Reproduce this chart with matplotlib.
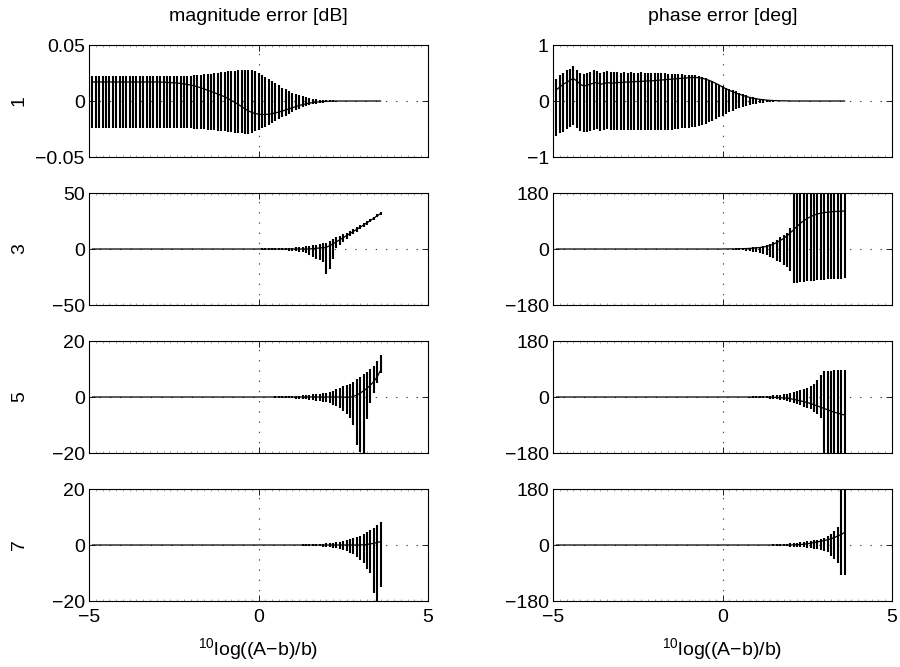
import numpy as np
import matplotlib
matplotlib.use("Agg")
import matplotlib.pyplot as plt
from matplotlib.ticker import MultipleLocator

plt.rcParams['font.family'] = ['Liberation Sans', 'DejaVu Sans']
plt.rcParams['mathtext.fontset'] = 'custom'
plt.rcParams['mathtext.rm'] = 'Liberation Sans'
plt.rcParams['mathtext.it'] = 'Liberation Sans:italic'

# x positions: 10log((A-b)/b) from -4.9 to 3.6 in steps of 0.1
x = np.linspace(-4.9, 3.6, 86)

orders = ["1", "3", "5", "7"]
col_titles = ["magnitude error [dB]", "phase error [deg]"]
x_ticks = [-5, 0, 5]
mag_limits = [0.05, 50, 20, 20]
phase_limits = [1, 180, 180, 180]
mag_tick_labels = [["\u22120.05", "0", "0.05"], ["\u221250", "0", "50"], ["\u221220", "0", "20"], ["\u221220", "0", "20"]]
phase_tick_labels = [["\u22121", "0", "1"], ["\u2212180", "0", "180"], ["\u2212180", "0", "180"], ["\u2212180", "0", "180"]]

# ---- order 1, magnitude ----
mag1_mean = ([0.017]*20
             + [0.0169, 0.0168, 0.0166, 0.0164, 0.0162, 0.016, 0.0157, 0.0153, 0.0148, 0.0142, 0.0135, 0.0127, 0.0118, 0.0108]
             + [0.0095, 0.0085, 0.0074, 0.0062, 0.005, 0.0038]
             + [0.0022, 0.0005, -0.0012, -0.003, -0.005, -0.007, -0.0088, -0.0102, -0.0112]
             + [-0.0117, -0.012, -0.012, -0.0118, -0.0113, -0.0106, -0.0098, -0.009, -0.008, -0.007]
             + [-0.006, -0.005, -0.004, -0.0032, -0.0025, -0.0019, -0.0014, -0.001, -0.0007, -0.0005, -0.0003]
             + [-0.0002, -0.0001] + [0.0]*14)
mag1_hi = ([0.0223]*29
           + [0.0225, 0.0228, 0.0231, 0.0234, 0.0237, 0.024, 0.0244, 0.0248, 0.0252, 0.0256]
           + [0.026, 0.0264, 0.0268, 0.0272, 0.0275, 0.0278, 0.028, 0.028, 0.0275, 0.0265]
           + [0.025, 0.0235, 0.0218, 0.02, 0.018, 0.016, 0.014, 0.012, 0.0103, 0.0088]
           + [0.0075, 0.0063, 0.0052, 0.0042, 0.0033, 0.0026, 0.002, 0.0016, 0.0012, 0.001]
           + [0.0008, 0.0006, 0.0005, 0.0004, 0.0003, 0.0002]
           + [0.0001]*11)
mag1_lo = ([-0.0242]*29
           + [-0.0244, -0.0246, -0.0248, -0.025, -0.0253, -0.0256, -0.0259, -0.0262, -0.0265, -0.0268]
           + [-0.0271, -0.0275, -0.0279, -0.0283, -0.0287, -0.029, -0.0292, -0.0292, -0.0285, -0.0272]
           + [-0.0255, -0.0242, -0.0228, -0.0213, -0.0198, -0.0183, -0.0165, -0.0147, -0.013, -0.0112]
           + [-0.0096, -0.0082, -0.0069, -0.0057, -0.0046, -0.0037, -0.003, -0.0024, -0.0019, -0.0015]
           + [-0.0012, -0.0009, -0.0007, -0.0005, -0.0004, -0.0003]
           + [-0.0002]*11)

# ---- order 1, phase ----
ph1_mean = ([0.2, 0.25, 0.3, 0.33, 0.37, 0.4, 0.36, 0.3, 0.27, 0.28, 0.3, 0.32, 0.33, 0.3, 0.31, 0.33, 0.32, 0.32, 0.33, 0.33]
            + [0.335, 0.34, 0.34, 0.345, 0.35, 0.35, 0.355, 0.36, 0.36, 0.365]
            + [0.37, 0.375, 0.38, 0.385, 0.39, 0.395, 0.4, 0.405, 0.41, 0.415]
            + [0.42, 0.42, 0.415, 0.405, 0.39, 0.37, 0.345, 0.315, 0.285, 0.25]
            + [0.22, 0.19, 0.165, 0.14, 0.12, 0.1, 0.08, 0.065, 0.05, 0.04]
            + [0.03, 0.022, 0.016, 0.012, 0.008, 0.006, 0.004, 0.003, 0.002, 0.001]
            + [0.0]*16)
ph1_hi = ([0.4, 0.47, 0.5, 0.55, 0.58, 0.62, 0.55, 0.5, 0.48, 0.5, 0.52, 0.55, 0.53, 0.5, 0.52, 0.54, 0.52, 0.51, 0.51, 0.5]
          + [0.51, 0.5, 0.51, 0.5, 0.5, 0.51, 0.5, 0.5, 0.5, 0.5]
          + [0.5, 0.5, 0.5, 0.49, 0.49, 0.49, 0.48, 0.48, 0.47, 0.47]
          + [0.47, 0.46, 0.45, 0.43, 0.41, 0.38, 0.35, 0.32, 0.29, 0.26]
          + [0.24, 0.22, 0.19, 0.17, 0.14, 0.12, 0.1, 0.08, 0.065, 0.05]
          + [0.04, 0.03, 0.022, 0.016, 0.012, 0.009, 0.007, 0.005, 0.004, 0.003]
          + [0.002]*16)
ph1_lo = ([-0.62, -0.58, -0.55, -0.5, -0.47, -0.43, -0.48, -0.53, -0.56, -0.55, -0.53, -0.52, -0.5, -0.54, -0.52, -0.5, -0.51, -0.52, -0.52, -0.52]
          + [-0.52]*10
          + [-0.52, -0.52, -0.52, -0.51, -0.51, -0.5, -0.5, -0.49, -0.49, -0.48]
          + [-0.47, -0.46, -0.45, -0.43, -0.41, -0.38, -0.35, -0.32, -0.29, -0.26]
          + [-0.23, -0.2, -0.17, -0.145, -0.12, -0.1, -0.085, -0.07, -0.055, -0.045]
          + [-0.035, -0.027, -0.02, -0.015, -0.011, -0.008, -0.006, -0.004, -0.003, -0.002]
          + [-0.001]*16)

# ---- order 3 ----
mag3_mean = [0.0]*65 + [0.3, 0.6, 0.9, 1.2, 1.5, 3.0, 4.7, 6.5, 8.3, 10.1, 12, 13.8, 15.7, 17.6, 19.5, 21.4, 23.4, 25.4, 27.5, 29.6, 31.6]
mag3_hi = ([0.3]*50 + [0.5, 0.5, 0.6, 0.6, 0.7, 0.8, 0.9, 1.0, 1.1, 1.3]
           + [1.5, 1.8, 2.2, 2.6, 3.0, 3.5, 4.0, 4.5, 5.0, 5.5]
           + [7.5, 9, 10.5, 12, 13, 14.5, 16, 18, 19.6, 21.4, 23.2, 25.1, 27, 29, 31, 32.8])
mag3_lo = ([-0.3]*50 + [-0.5, -0.5, -0.6, -0.7, -0.8, -0.9, -1.0, -1.2, -1.4, -1.6]
           + [-2, -2.5, -3, -4, -5.5, -7, -9, -10, -12, -22]
           + [-18, -8.5, 1, 3.5, 6.5, 9, 11.3, 13.4, 15.5, 17.6, 19.6, 21.7, 23.8, 26, 28.2, 30.4])
ph3_mean = ([0.0]*50 + [0.2, 0.3, 0.4, 0.6, 0.8, 1.1, 1.5, 2, 2.7, 3.6]
            + [4.8, 6.3, 8.5, 11.5, 15.5, 21, 27, 34, 42, 52]
            + [62, 73, 83, 91, 98, 104, 109, 112.5, 115, 117, 118.5, 119.5, 120.5, 121, 121.5, 122])
ph3_hi = ([0.5]*50 + [1, 1.2, 1.5, 1.8, 2.2, 2.7, 3.3, 4, 5, 6]
          + [8, 10, 13, 17, 22, 29, 37, 45, 53, 66]
          + [300]*16)
ph3_lo = ([-0.5]*50 + [-1, -1.5, -2, -2.7, -3.5, -4.5, -5.5, -7, -8.5, -10.5]
          + [-13, -16, -20, -25, -30, -37, -42, -50, -58, -70]
          + [-110, -108, -107, -105, -104, -103, -102, -101, -100, -99, -98, -97, -96, -95, -95, -94])

# ---- order 5 ----
mag5_mean = [0.0]*75 + [-0.1, -0.1, 0.2, 0.7, 1.4, 2.2, 3.1, 4.2, 5.5, 7.2, 9.5]
mag5_hi = ([0.1]*50 + [0.1, 0.1, 0.15, 0.15, 0.2, 0.2, 0.25, 0.3, 0.35, 0.4]
           + [0.45, 0.5, 0.6, 0.7, 0.8, 0.9, 1.0, 1.2, 1.4, 1.6]
           + [1.9, 2.3, 2.8, 3.3, 3.8, 4.3, 4.8, 5.5, 6.3, 7.3, 8.2, 9, 10, 11, 13, 15])
mag5_lo = ([-0.1]*50 + [-0.1, -0.1, -0.15, -0.15, -0.2, -0.25, -0.3, -0.35, -0.4, -0.5]
           + [-0.55, -0.6, -0.7, -0.8, -1.0, -1.1, -1.3, -1.5, -1.7, -1.9]
           + [-2.3, -2.8, -3.3, -4, -5, -6, -7.5, -10, -17, -19.5, -20.5, -8, -2, 1.3, 4.9, 8.5])
ph5_mean = [0.0]*64 + [-1, -1.5, -2, -3, -4, -5.5, -7.5, -10, -12.5, -15, -18, -21, -25, -29, -33, -37, -41, -45, -49, -52, -55, -58]
ph5_hi = ([0.5]*50 + [0.6, 0.7, 0.8, 0.9, 1.0, 1.2, 1.4, 1.6, 1.9, 2.2]
          + [2.6, 3, 3.5, 4.2, 5, 6, 7.2, 8.6, 10.3, 12.5]
          + [15, 18, 21, 25, 29, 35, 43, 55, 72]
          + [82, 84, 85, 86, 86, 87, 88])
ph5_lo = ([-0.5]*50 + [-0.6, -0.7, -0.8, -0.9, -1.1, -1.3, -1.5, -1.8, -2.1, -2.5]
          + [-3, -3.6, -4.3, -5.2, -6.2, -7.5, -9, -11, -13, -16]
          + [-19, -23, -27, -31, -35, -40, -47, -56, -66]
          + [-300]*7)

# ---- order 7 ----
mag7_mean = [0.0]*80 + [0.1, 0.2, 0.4, 0.6, 0.9, 1.2]
mag7_hi = ([0.1]*60 + [0.15, 0.15, 0.2, 0.2, 0.25, 0.3, 0.35, 0.4, 0.5, 0.6]
           + [0.7, 0.8, 1.0, 1.2, 1.4, 1.7, 2.0, 2.4, 2.8, 3.3, 3.9, 4.6, 5.3, 6.2, 7.2, 8.2])
mag7_lo = ([-0.1]*60 + [-0.15, -0.15, -0.2, -0.25, -0.3, -0.35, -0.4, -0.5, -0.6, -0.7]
           + [-0.8, -1.0, -1.2, -1.5, -1.8, -2.2, -2.7, -3.3, -4.2, -5.2, -6.5, -8.5, -10, -17, -22, -15])
ph7_mean = [0.0]*70 + [0.5, 1, 1.5, 2.5, 4, 6, 8, 10, 12, 14, 17, 20, 24, 29, 34, 40]
ph7_hi = ([0.5]*60 + [0.7, 0.9, 1.1, 1.4, 1.7, 2.1, 2.6, 3.2, 4, 5]
          + [6, 7, 8.5, 10, 11.5, 13, 15, 17, 20, 24, 29, 36, 46, 58, 300, 300])
ph7_lo = ([-0.5]*60 + [-0.7, -0.9, -1.1, -1.4, -1.7, -2.1, -2.6, -3.2, -4, -5]
          + [-5.5, -6, -7, -8, -9, -10, -11.5, -13, -15.5, -18, -23, -34, -44, -58, -96, -96])

mag_data = [(mag1_mean, mag1_lo, mag1_hi), (mag3_mean, mag3_lo, mag3_hi),
            (mag5_mean, mag5_lo, mag5_hi), (mag7_mean, mag7_lo, mag7_hi)]
ph_data = [(ph1_mean, ph1_lo, ph1_hi), (ph3_mean, ph3_lo, ph3_hi),
           (ph5_mean, ph5_lo, ph5_hi), (ph7_mean, ph7_lo, ph7_hi)]

fig = plt.figure(figsize=(9, 6.67), dpi=100)
FS = 14
col_left = [89/900, 553/900]
width = 339/900
row_top_px = [45, 193, 341, 489]
height = 112/667

for r in range(4):
    for c in range(2):
        bottom = 1 - (row_top_px[r] + 112)/667
        ax = fig.add_axes([col_left[c], bottom, width, height])
        if c == 0:
            mean, lo, hi = mag_data[r]
            lim = mag_limits[r]
            labels = mag_tick_labels[r]
        else:
            mean, lo, hi = ph_data[r]
            lim = phase_limits[r]
            labels = phase_tick_labels[r]
        ax.vlines(x, np.array(lo), np.array(hi), colors='k', linewidth=1.5, zorder=3)
        ax.plot(x, mean, color='k', linewidth=0.9, zorder=4)
        ax.set_xlim(-5, 5)
        ax.set_ylim(-lim, lim)
        ax.set_xticks(x_ticks)
        ax.set_yticks([-lim, 0, lim])
        ax.set_yticklabels(labels, fontsize=FS)
        if r == 3:
            ax.set_xticklabels(["\u22125", "0", "5"], fontsize=FS)
            ax.set_xlabel("$^{10}$log((A\u2212b)/b)", fontsize=FS, labelpad=7)
        else:
            ax.set_xticklabels([])
        ax.xaxis.set_minor_locator(MultipleLocator(0.2))
        ax.tick_params(which='major', direction='in', length=4, width=0.6,
                       top=True, right=True, pad=3)
        ax.tick_params(axis='x', which='major', pad=6)
        ax.tick_params(which='minor', direction='in', length=1.5, width=0.5,
                       top=True, bottom=True, left=False, right=False, color='0.5')
        ax.grid(True, which='major', color='0.25', linestyle=(0, (1.2, 8)), linewidth=0.8)
        ax.set_axisbelow(True)
        for s in ax.spines.values():
            s.set_linewidth(0.8)
        if r == 0:
            ax.set_title(col_titles[c], fontsize=FS, pad=17)
        if c == 0:
            ax.set_ylabel(orders[r], fontsize=FS)
            ax.yaxis.set_label_coords(-0.18, 0.5)

fig.savefig("out.png", dpi=100)
